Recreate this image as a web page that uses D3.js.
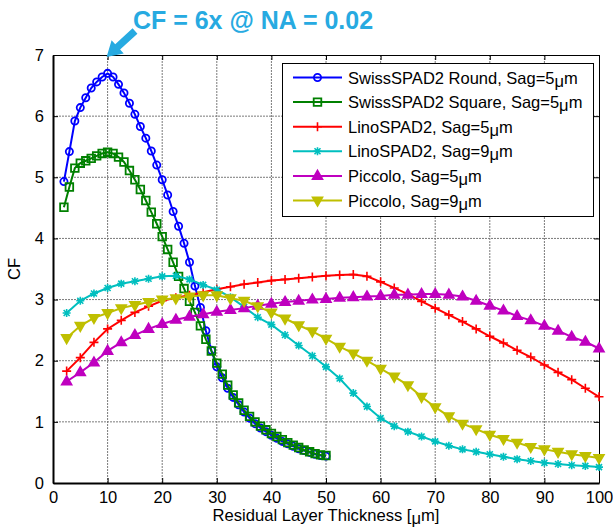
<!DOCTYPE html>
<html><head><meta charset="utf-8">
<script src="https://cdn.jsdelivr.net/npm/d3@7"></script>
<style>body{margin:0;background:#fff}svg{display:block}text{font-family:"Liberation Sans",Arial,sans-serif}</style>
</head><body><div id="c"></div>
<script>
const xTicks = [0,10,20,30,40,50,60,70,80,90,100];
const yTicks = [0,1,2,3,4,5,6,7];
const xSwiss = d3.range(2, 51, 1);
const xOther = d3.range(1, 41).map(i => i * 2.5);
const swissRound = [4.93,5.42,5.92,6.14,6.30,6.46,6.56,6.64,6.70,6.64,6.52,6.38,6.21,6.03,5.83,5.64,5.43,5.20,4.96,4.71,4.44,4.20,3.92,3.61,3.22,2.87,2.49,2.17,1.90,1.72,1.55,1.40,1.28,1.16,1.06,0.97,0.90,0.84,0.78,0.73,0.68,0.64,0.60,0.56,0.53,0.50,0.47,0.45,0.44];
const swissSquare = [4.51,4.84,5.15,5.23,5.27,5.31,5.35,5.39,5.41,5.39,5.33,5.25,5.11,4.96,4.80,4.62,4.43,4.24,4.03,3.82,3.61,3.38,3.18,2.97,2.79,2.57,2.35,2.16,1.96,1.78,1.60,1.44,1.31,1.19,1.09,1.00,0.93,0.87,0.81,0.76,0.71,0.66,0.62,0.58,0.54,0.51,0.48,0.46,0.45];
const lino5 = [1.83,2.05,2.30,2.52,2.66,2.79,2.89,2.98,3.03,3.07,3.12,3.17,3.21,3.25,3.28,3.31,3.33,3.35,3.37,3.39,3.40,3.41,3.38,3.29,3.19,3.09,2.97,2.86,2.75,2.64,2.52,2.40,2.29,2.17,2.06,1.93,1.81,1.69,1.55,1.41];
const lino9 = [2.78,2.98,3.10,3.19,3.26,3.30,3.34,3.38,3.39,3.33,3.24,3.16,3.04,2.88,2.71,2.59,2.42,2.25,2.08,1.90,1.71,1.47,1.25,1.06,0.93,0.84,0.76,0.68,0.61,0.55,0.51,0.47,0.43,0.39,0.36,0.33,0.31,0.29,0.28,0.26];
const piccolo5 = [1.66,1.81,1.97,2.16,2.30,2.42,2.52,2.60,2.67,2.72,2.76,2.80,2.83,2.86,2.90,2.93,2.96,2.98,3.00,3.01,3.03,3.04,3.05,3.06,3.08,3.08,3.09,3.09,3.08,3.05,2.98,2.90,2.82,2.73,2.66,2.57,2.49,2.39,2.31,2.20];
const piccolo9 = [2.37,2.57,2.70,2.78,2.86,2.91,2.96,3.00,3.02,3.05,3.07,3.07,3.02,2.98,2.89,2.79,2.69,2.58,2.48,2.36,2.23,2.12,2.00,1.87,1.74,1.60,1.41,1.24,1.09,0.97,0.88,0.79,0.72,0.66,0.59,0.55,0.51,0.47,0.44,0.41];
const seriesNames = ["SwissSPAD2 Round, Sag=5","SwissSPAD2 Square, Sag=5","LinoSPAD2, Sag=5","LinoSPAD2, Sag=9","Piccolo, Sag=5","Piccolo, Sag=9"];

const series = [
  {name: seriesNames[0], xs: xSwiss, ys: swissRound, color: "#0000ff", marker: "circle"},
  {name: seriesNames[1], xs: xSwiss, ys: swissSquare, color: "#008000", marker: "square"},
  {name: seriesNames[2], xs: xOther, ys: lino5, color: "#ff0000", marker: "plus"},
  {name: seriesNames[3], xs: xOther, ys: lino9, color: "#00bfbf", marker: "star"},
  {name: seriesNames[4], xs: xOther, ys: piccolo5, color: "#bf00bf", marker: "up"},
  {name: seriesNames[5], xs: xOther, ys: piccolo9, color: "#bfbf00", marker: "down"}
];

const W = 613, H = 528;
const L = 53, R = 599, T = 55, B = 483;
const svg = d3.select("#c").append("svg").attr("width", W).attr("height", H);
const x = d3.scaleLinear().domain([0, 100]).range([L, R]);
const y = d3.scaleLinear().domain([0, 7]).range([B, T]);

// grid
const g = svg.append("g");
g.selectAll(".gx").data(xTicks.slice(1, -1)).enter().append("line")
  .attr("x1", d => x(d)).attr("x2", d => x(d)).attr("y1", T).attr("y2", B)
  .attr("stroke", "#7a7a7a").attr("stroke-width", 1).attr("stroke-dasharray", "2,1");
g.selectAll(".gy").data(yTicks.slice(1, -1)).enter().append("line")
  .attr("y1", d => y(d)).attr("y2", d => y(d)).attr("x1", L).attr("x2", R)
  .attr("stroke", "#7a7a7a").attr("stroke-width", 1).attr("stroke-dasharray", "2,1");

// axes (ticks inward, box)
const fmt = d3.format("d");
const axB = svg.append("g").attr("transform", `translate(0,${B})`)
  .call(d3.axisBottom(x).tickValues(xTicks).tickFormat(fmt).tickSizeInner(-5).tickSizeOuter(0).tickPadding(8));
const axT = svg.append("g").attr("transform", `translate(0,${T})`)
  .call(d3.axisTop(x).tickValues(xTicks).tickSizeInner(-5).tickSizeOuter(0).tickFormat(""));
const axL = svg.append("g").attr("transform", `translate(${L},0)`)
  .call(d3.axisLeft(y).tickValues(yTicks).tickFormat(fmt).tickSizeInner(-5).tickSizeOuter(0).tickPadding(9));
const axR = svg.append("g").attr("transform", `translate(${R},0)`)
  .call(d3.axisRight(y).tickValues(yTicks).tickSizeInner(-5).tickSizeOuter(0).tickFormat(""));
[axB, axT, axL, axR].forEach(a => {
  a.select(".domain").attr("stroke", "#000").attr("stroke-width", 1);
  a.selectAll(".tick line").attr("stroke", "#000");
  a.selectAll("text").attr("font-size", 16.5).attr("fill", "#000").attr("font-family", '"Liberation Sans",Arial,sans-serif');
});
axB.select(".domain").attr("stroke-width", 2);
axL.select(".domain").attr("stroke-width", 2);

// marker paths
function markerPath(type) {
  switch (type) {
    case "circle": return "M3.6,0A3.6,3.6 0 1,1 -3.6,0A3.6,3.6 0 1,1 3.6,0Z";
    case "square": return "M-3.8,-3.8H3.8V3.8H-3.8Z";
    case "plus": return "M-4.5,0H4.5M0,-4.5V4.5";
    case "star": return "M-4,0H4M0,-4V4M-3,-3L3,3M-3,3L3,-3";
    case "up": return "M0,-5.5L5,3.2H-5Z";
    case "down": return "M0,5.5L5,-3.2H-5Z";
  }
}
function drawMarker(sel, s) {
  const filled = s.marker === "up" || s.marker === "down";
  sel.attr("d", markerPath(s.marker))
    .attr("fill", filled ? s.color : "none")
    .attr("stroke", s.color)
    .attr("stroke-width", s.marker === "circle" || s.marker === "square" ? 1.8 : 1.6)
    .attr("stroke-linejoin", "miter");
}

const line = d3.line().x(d => x(d[0])).y(d => y(d[1]));
const plot = svg.append("g");
series.forEach(s => {
  const pts = s.xs.map((xv, i) => [xv, s.ys[i]]);
  const gs = plot.append("g");
  gs.append("path").attr("d", line(pts)).attr("fill", "none")
    .attr("stroke", s.color).attr("stroke-width", 2);
  gs.selectAll("path.m").data(pts).enter().append("path").attr("class", "m")
    .attr("transform", d => `translate(${x(d[0])},${y(d[1])})`)
    .each(function () { drawMarker(d3.select(this), s); });
});

// legend
const lg = svg.append("g");
lg.append("rect").attr("x", 282.5).attr("y", 63.5).attr("width", 311).attr("height", 153)
  .attr("fill", "#fff").attr("stroke", "#000").attr("stroke-width", 1);
series.forEach((s, i) => {
  const yy = 77.5 + i * 24.6;
  lg.append("line").attr("x1", 293).attr("x2", 342).attr("y1", yy).attr("y2", yy)
    .attr("stroke", s.color).attr("stroke-width", 2);
  lg.append("path").attr("transform", `translate(317.5,${yy})`).call(sel => drawMarker(sel, s));
  const t = lg.append("text").attr("x", 348).attr("y", yy + 6).attr("font-size", 16.5).attr("fill", "#000");
  t.append("tspan").text(s.name);
  t.append("tspan").attr("dy", 3).text("μ");
  t.append("tspan").attr("dy", -3).text("m");
});

// axis labels
const xl = svg.append("text").attr("x", (L + R) / 2).attr("y", 521).attr("text-anchor", "middle")
  .attr("font-size", 16.6).attr("fill", "#000");
xl.append("tspan").text("Residual Layer Thickness [");
xl.append("tspan").attr("dy", 3).text("μ");
xl.append("tspan").attr("dy", -3).text("m]");
svg.append("text").attr("transform", `translate(20,${(T + B) / 2}) rotate(-90)`)
  .attr("text-anchor", "middle").attr("font-size", 16.5).attr("fill", "#000").text("CF");

// annotation
const ac = "#27aae1";
svg.append("text").attr("x", 253).attr("y", 29).attr("text-anchor", "middle")
  .attr("font-family", "Lato, 'Open Sans', sans-serif").attr("font-weight", "bold")
  .attr("font-size", 25).attr("fill", ac).text("CF = 6x @ NA = 0.02");
(function () {
  const x0 = 135, y0 = 31, x1 = x(10) - 1, y1 = T + 2;
  const dx = x1 - x0, dy = y1 - y0, len = Math.hypot(dx, dy);
  const ux = dx / len, uy = dy / len, px = -uy, py = ux;
  const hl = 15, hw = 9, sw = 3.6;
  const bx = x1 - ux * hl, by = y1 - uy * hl;
  const p = [[x0 + px * sw, y0 + py * sw], [bx + px * sw, by + py * sw], [bx + px * hw, by + py * hw], [x1, y1],
    [bx - px * hw, by - py * hw], [bx - px * sw, by - py * sw], [x0 - px * sw, y0 - py * sw]];
  svg.append("path").attr("d", "M" + p.map(q => q.join(",")).join("L") + "Z").attr("fill", ac);
})();
</script></body></html>
